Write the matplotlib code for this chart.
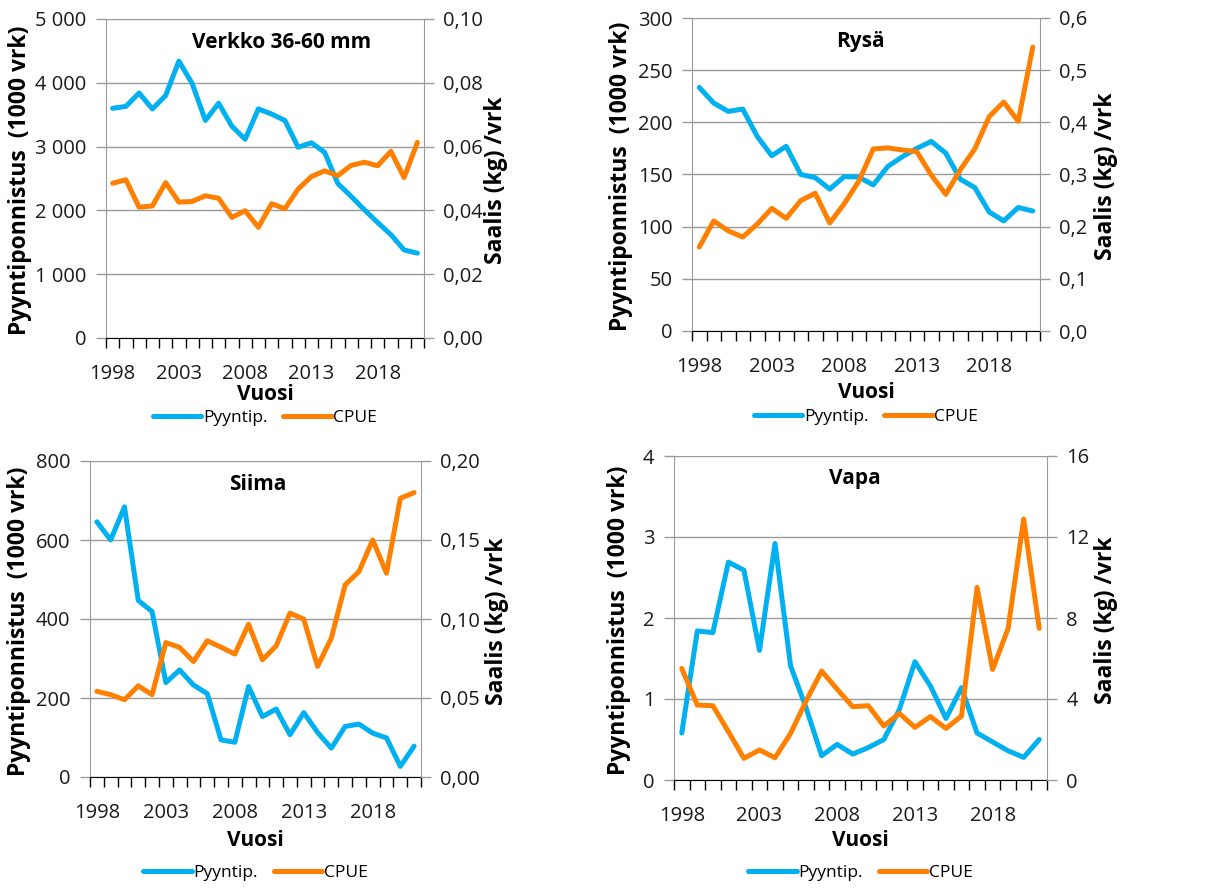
import numpy as np
import matplotlib
matplotlib.use("Agg")
import matplotlib.pyplot as plt
from matplotlib.ticker import FixedLocator, FuncFormatter

plt.rcParams['font.family'] = ['Open Sans', 'DejaVu Sans']

W, H = 1205, 889

years = list(range(1998, 2022))

# Verkko 36-60 mm
verkko_effort = [3600, 3630, 3840, 3590, 3800, 4340, 3990, 3410, 3680, 3320, 3115, 3590,
                 3510, 3410, 2990, 3060, 2910, 2420, 2220, 2010, 1810, 1620, 1380, 1330]
verkko_cpue = [0.0485, 0.0496, 0.0410, 0.0414, 0.0487, 0.0426, 0.0428, 0.0446, 0.0438, 0.0378,
               0.0399, 0.0347, 0.0421, 0.0405, 0.0467, 0.0506, 0.0524, 0.0509, 0.0541, 0.0551,
               0.0540, 0.0585, 0.0503, 0.0613]

# Rysä
rysa_effort = [233.5, 218.5, 210.5, 212.7, 186.5, 168, 177, 150, 147, 136, 148, 147.5,
               140, 157.7, 167, 175, 181.7, 170.5, 145.5, 137.5, 114, 105.6, 118.4, 115]
rysa_cpue = [0.161, 0.211, 0.192, 0.180, 0.205, 0.235, 0.216, 0.250, 0.264, 0.207, 0.244, 0.287,
             0.349, 0.351, 0.347, 0.344, 0.299, 0.262, 0.309, 0.349, 0.411, 0.439, 0.402, 0.544]

# Siima
siima_effort = [646, 600, 684, 447, 419, 239, 271, 233, 211, 94, 88, 229,
                153, 172, 107, 163, 113, 73, 128, 134, 111, 99, 27, 78]
siima_cpue = [0.0542, 0.0521, 0.0489, 0.0577, 0.0521, 0.0851, 0.0820, 0.0731, 0.0862, 0.0822,
              0.0778, 0.0967, 0.0742, 0.0830, 0.1037, 0.0999, 0.0700, 0.0879, 0.1216, 0.1300,
              0.1500, 0.1290, 0.1764, 0.1800]

# Vapa
vapa_effort = [0.58, 1.84, 1.82, 2.69, 2.59, 1.60, 2.92, 1.41, 0.89, 0.30, 0.44, 0.32,
               0.40, 0.50, 0.87, 1.46, 1.16, 0.76, 1.14, 0.58, 0.47, 0.36, 0.28, 0.50]
vapa_cpue = [5.51, 3.70, 3.67, 2.39, 1.07, 1.48, 1.10, 2.30, 3.90, 5.38, 4.48, 3.62,
             3.67, 2.67, 3.29, 2.60, 3.13, 2.55, 3.16, 9.51, 5.46, 7.49, 12.89, 7.49]

titles = ["Verkko 36-60 mm", "Rysä", "Siima", "Vapa"]
label_years = [1998, 2003, 2008, 2013, 2018]

BLUE = '#00B0F0'
ORANGE = '#FF8000'
GRID = '#9A9A9A'
TXT = '#1a1a1a'


def fmt_left(v, pos):
    return f"{int(round(v)):,}".replace(",", " ")


def make_right_fmt(dec):
    def f(v, pos):
        return f"{v:.{dec}f}".replace(".", ",")
    return f


def fx(px):
    return px / W


def fy(py):
    return 1 - py / H


panels = [
    dict(box=(106, 19, 424, 338), eff=verkko_effort, cpue=verkko_cpue, ymax=5000, ystep=1000,
         y2max=0.10, y2step=0.02, dec=2, tx=282, llx=20, rlx=496, vy=57, ly=80),
    dict(box=(692, 18, 1040, 331), eff=rysa_effort, cpue=rysa_cpue, ymax=300, ystep=50,
         y2max=0.6, y2step=0.1, dec=1, tx=860, llx=621, rlx=1106, vy=61, ly=86),
    dict(box=(90, 461, 421, 777), eff=siima_effort, cpue=siima_cpue, ymax=800, ystep=200,
         y2max=0.20, y2step=0.05, dec=2, tx=258, llx=19, rlx=497, vy=63, ly=96),
    dict(box=(674, 456, 1047, 780), eff=vapa_effort, cpue=vapa_cpue, ymax=4, ystep=1,
         y2max=16, y2step=4, dec=0, tx=855, llx=619, rlx=1106, vy=60, ly=93),
]

fig = plt.figure(figsize=(W / 100, H / 100), dpi=100)
fig.patch.set_facecolor('white')

x = np.arange(len(years))

for p, title in zip(panels, titles):
    l, t, r, b = p['box']
    ax = fig.add_axes([fx(l), fy(b), fx(r - l), (b - t) / H])
    ax2 = ax.twinx()

    ax.plot(x, p['eff'], color=BLUE, lw=3.6, solid_capstyle='round',
            solid_joinstyle='round', label='Pyyntip.')
    ax2.plot(x, p['cpue'], color=ORANGE, lw=3.6, solid_capstyle='round',
             solid_joinstyle='round', label='CPUE')

    ax.set_xlim(-0.5, len(years) - 0.5)
    ax.set_ylim(0, p['ymax'])
    ax2.set_ylim(0, p['y2max'])

    yt = np.arange(0, p['ymax'] + p['ystep'] / 2, p['ystep'])
    ax.set_yticks(yt)
    ax.yaxis.set_major_formatter(FuncFormatter(fmt_left))
    yt2 = np.arange(0, p['y2max'] + p['y2step'] / 2, p['y2step'])
    ax2.set_yticks(yt2)
    ax2.yaxis.set_major_formatter(FuncFormatter(make_right_fmt(p['dec'])))

    # x axis: labels every 5 years, tick marks between categories
    ax.set_xticks([years.index(yv) for yv in label_years])
    ax.set_xticklabels([str(yv) for yv in label_years])
    ax.xaxis.set_minor_locator(FixedLocator(np.arange(-0.5, len(years), 1.0)))
    ax.tick_params(axis='x', which='major', length=0, pad=19, labelsize=14.5, labelcolor=TXT)
    ax.tick_params(axis='x', which='minor', length=7, width=1, color='black', direction='out')

    ax.tick_params(axis='y', length=7, width=1, color=GRID, pad=7, labelsize=14.5, labelcolor=TXT)
    ax2.tick_params(axis='y', length=7, width=1, color=GRID, pad=7, labelsize=14.5, labelcolor=TXT)

    ax.yaxis.grid(True, color=GRID, lw=1)
    ax.set_axisbelow(True)

    for a in (ax, ax2):
        a.spines['top'].set_visible(False)
        a.spines['left'].set_color(GRID)
        a.spines['right'].set_color(GRID)
        a.spines['bottom'].set_color('black')
        a.patch.set_visible(False)
    ax2.spines['bottom'].set_visible(False)
    ax2.spines['left'].set_visible(False)
    ax.spines['right'].set_visible(False)

    # titles and labels
    fig.text(fx(p['tx']), fy(t + 23), title, fontsize=15, fontweight='bold',
             ha='center', va='center', color='black')
    cy = fy((t + b) / 2 + 2)
    fig.text(fx(p['llx']), cy, "Pyyntiponnistus  (1000 vrk)", rotation=90, fontsize=16.5,
             fontweight='bold', ha='center', va='center', color='black')
    fig.text(fx(p['rlx']), cy, "Saalis (kg) /vrk", rotation=90, fontsize=16.5,
             fontweight='bold', ha='center', va='center', color='black')
    fig.text(fx((l + r) / 2), fy(b + p['vy']), "Vuosi", fontsize=15, fontweight='bold',
             ha='center', va='center', color='black')

    h1, l1 = ax.get_legend_handles_labels()
    h2, l2 = ax2.get_legend_handles_labels()
    fig.legend(h1 + h2, l1 + l2, loc='center', bbox_to_anchor=(fx((l + r) / 2), fy(b + p['ly'])),
               ncol=2, frameon=False, fontsize=12.5, handlelength=2.8, handletextpad=0.1,
               columnspacing=0.9, borderaxespad=0, borderpad=0)

fig.savefig('out.png', dpi=100, facecolor='white')
